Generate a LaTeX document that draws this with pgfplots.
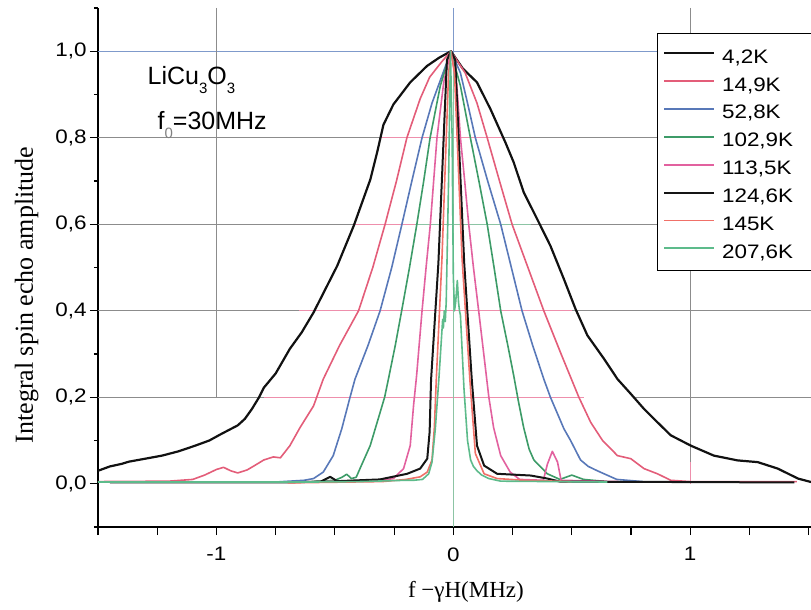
\documentclass[border=0pt]{standalone}
\usepackage{fontspec}
\setmainfont{Liberation Sans}
\newfontfamily\tickfont[FakeStretch=1.15]{Liberation Sans}
\newfontfamily\seriffont{Liberation Serif}
\usepackage{pgfplots}
\pgfplotsset{compat=1.18}
\definecolor{cA}{HTML}{111111}
\definecolor{cB}{HTML}{E35D79}
\definecolor{cC}{HTML}{5878B8}
\definecolor{cD}{HTML}{3D9B68}
\definecolor{cE}{HTML}{E2619F}
\definecolor{cF}{HTML}{151515}
\definecolor{cG}{HTML}{F07068}
\definecolor{cH}{HTML}{5DBB8B}
\definecolor{gridgray}{HTML}{8C8C8C}
\definecolor{gridpink}{HTML}{EE8FAC}
\definecolor{gridblue}{HTML}{7F9ACB}
\definecolor{gridgreen}{HTML}{8CC4A4}
\newcommand\sub[1]{\raisebox{-9bp}{\fontsize{15bp}{15bp}\selectfont #1}}
\begin{document}
\begin{tikzpicture}
\path[use as bounding box] (-98bp,-83bp) rectangle (713bp,527bp);
\begin{axis}[
  at={(0,0)}, anchor=south west,
  scale only axis, width=713bp, height=519bp,
  xmin=-1.5, xmax=1.51, ymin=-0.1, ymax=1.1,
  axis x line=bottom, axis y line=left,
  axis line style={-, black, line width=1.3bp},
  x axis line style={-}, y axis line style={-},
  tick align=outside,
  major tick length=8bp, minor tick length=4bp,
  tick style={black, line width=1.1bp},
  xtick={-1.5,-1.25,-1,-0.75,-0.5,-0.25,0,0.25,0.5,0.75,1,1.25,1.5},
  xticklabels={{},{},-1,{},{},{},0,{},{},{},1,{},{}},
  ytick={0,0.2,0.4,0.6,0.8,1.0},
  yticklabels={{0,0},{0,2},{0,4},{0,6},{0,8},{1,0}},
  minor ytick={-0.1,0.1,0.3,0.5,0.7,0.9,1.1},
  ticklabel style={font=\tickfont\fontsize{19.5bp}{22bp}\selectfont},
  xticklabel style={yshift=-9bp},
  xlabel={f −γH(MHz)},
  xlabel style={font=\seriffont\fontsize{23bp}{26bp}\selectfont, at={(axis description cs:0.516,-0.1368)}, anchor=base},
  ylabel={Integral spin echo amplitude},
  ylabel style={font=\seriffont\fontsize{26bp}{29bp}\selectfont, at={(axis description cs:-0.0912,0.447)}, anchor=base},
  legend style={at={(axis description cs:0.784,0.952)}, anchor=north west, draw=none, fill=none,
    font=\tickfont\fontsize{19.5bp}{22bp}\selectfont, inner xsep=6bp, inner ysep=6bp, row sep=0pt, column sep=7bp,
    nodes={inner sep=0pt, text height=24bp, text depth=3.9bp}},
  legend cell align=left,
  legend image code/.code={\draw[#1, line width=1.9bp] (0bp,0bp) -- (50bp,0bp);},
]
% grid lines
\draw[gridgray, line width=0.7bp] (axis cs:-1.5,0.8) -- (axis cs:1.51,0.8);
\draw[gridgray, line width=0.7bp] (axis cs:-1.5,0.6) -- (axis cs:1.51,0.6);
\draw[gridgray, line width=0.7bp] (axis cs:-1.5,0.4) -- (axis cs:1.51,0.4);
\draw[gridgray, line width=0.7bp] (axis cs:-1.5,0.2) -- (axis cs:-0.8,0.2);
\draw[gridgray, line width=0.7bp] (axis cs:0.76,0.2) -- (axis cs:1.51,0.2);
\draw[gridpink, line width=0.7bp] (axis cs:-0.31,0.8) -- (axis cs:0.21,0.8);
\draw[gridpink, line width=0.7bp] (axis cs:-0.42,0.6) -- (axis cs:-0.16,0.6);
\draw[gridgreen, line width=0.7bp] (axis cs:-0.16,0.6) -- (axis cs:0.33,0.6);
\draw[gridpink, line width=0.7bp] (axis cs:-0.65,0.4) -- (axis cs:0.5,0.4);
\draw[gridpink, line width=0.7bp] (axis cs:-0.8,0.2) -- (axis cs:0.55,0.2);
\draw[gridblue, line width=0.9bp] (axis cs:-1.5,1.0) -- (axis cs:1.51,1.0);
\draw[gridgray, line width=0.7bp] (axis cs:-1,1.1) -- (axis cs:-1,0.2);
\draw[gridblue, line width=0.7bp] (axis cs:0,1.1) -- (axis cs:0,0.97);
\draw[gridgreen, line width=0.7bp] (axis cs:0,0.97) -- (axis cs:0,-0.1);
\draw[gridgray, line width=0.7bp] (axis cs:1,1.1) -- (axis cs:1,0.05);
\draw[gridpink, line width=0.7bp] (axis cs:1,0.05) -- (axis cs:1,0);

\addplot[cA, line width=2.2bp, line join=round] coordinates {
(-1.50,0.030) (-1.45,0.040) (-1.40,0.046) (-1.37,0.051) (-1.30,0.058) (-1.23,0.065) (-1.16,0.075) (-1.09,0.088) (-1.03,0.100) (-0.98,0.115) (-0.91,0.135) (-0.88,0.150) (-0.85,0.173) (-0.82,0.200) (-0.80,0.222) (-0.75,0.255) (-0.69,0.312) (-0.64,0.350) (-0.59,0.396) (-0.54,0.450) (-0.49,0.504) (-0.42,0.597) (-0.35,0.704) (-0.32,0.770) (-0.295,0.830) (-0.253,0.877) (-0.182,0.928) (-0.111,0.966) (-0.06,0.985) (-0.01,1.0) (0.04,0.960) (0.10,0.928) (0.157,0.866) (0.22,0.789) (0.255,0.743) (0.297,0.674) (0.354,0.612) (0.41,0.550) (0.467,0.473) (0.516,0.404) (0.566,0.343) (0.636,0.289) (0.693,0.242) (0.749,0.208) (0.805,0.173) (0.862,0.142) (0.918,0.112) (1.003,0.088) (1.10,0.065) (1.20,0.054) (1.285,0.050) (1.37,0.035) (1.455,0.012) (1.51,0.004)
};
\addlegendentry{4,2K}
\addplot[cB, line width=1.6bp, line join=round] coordinates {
(-1.50,0.005) (-1.20,0.006) (-1.10,0.010) (-1.05,0.020) (-1.00,0.033) (-0.97,0.038) (-0.94,0.030) (-0.91,0.025) (-0.87,0.032) (-0.83,0.045) (-0.80,0.055) (-0.76,0.062) (-0.73,0.060) (-0.69,0.088) (-0.647,0.130) (-0.59,0.180) (-0.549,0.242) (-0.48,0.320) (-0.40,0.400) (-0.34,0.500) (-0.288,0.600) (-0.24,0.700) (-0.196,0.800) (-0.14,0.890) (-0.10,0.940) (-0.05,0.975) (-0.01,1.0) (0.05,0.950) (0.10,0.880) (0.143,0.800) (0.195,0.700) (0.248,0.600) (0.315,0.500) (0.382,0.400) (0.455,0.300) (0.53,0.200) (0.58,0.142) (0.63,0.100) (0.693,0.065) (0.749,0.058) (0.805,0.035) (0.862,0.023) (0.918,0.008) (1.00,0.005) (1.45,0.005)
};
\addlegendentry{14,9K}
\addplot[cC, line width=1.6bp, line join=round] coordinates {
(-0.75,0.004) (-0.63,0.008) (-0.59,0.012) (-0.549,0.027) (-0.507,0.065) (-0.471,0.127) (-0.436,0.200) (-0.415,0.242) (-0.36,0.320) (-0.309,0.400) (-0.26,0.500) (-0.217,0.600) (-0.175,0.700) (-0.132,0.800) (-0.09,0.880) (-0.05,0.940) (-0.01,1.0) (0.03,0.950) (0.06,0.880) (0.093,0.800) (0.145,0.700) (0.20,0.600) (0.245,0.500) (0.29,0.400) (0.335,0.320) (0.382,0.242) (0.41,0.200) (0.467,0.127) (0.495,0.100) (0.537,0.055) (0.57,0.040) (0.608,0.030) (0.69,0.010) (0.80,0.005)
};
\addlegendentry{52,8K}
\addplot[cD, line width=1.6bp, line join=round] coordinates {
(-0.60,0.005) (-0.50,0.008) (-0.47,0.015) (-0.45,0.022) (-0.43,0.012) (-0.41,0.015) (-0.394,0.035) (-0.351,0.088) (-0.309,0.165) (-0.29,0.200) (-0.274,0.242) (-0.245,0.320) (-0.218,0.400) (-0.185,0.500) (-0.154,0.600) (-0.125,0.700) (-0.098,0.800) (-0.055,0.920) (-0.01,1.0) (0.03,0.920) (0.072,0.800) (0.108,0.700) (0.143,0.600) (0.172,0.500) (0.20,0.400) (0.23,0.320) (0.255,0.250) (0.275,0.190) (0.297,0.130) (0.32,0.080) (0.34,0.055) (0.397,0.023) (0.45,0.010) (0.50,0.020) (0.55,0.010) (0.65,0.005)
};
\addlegendentry{102,9K}
\addplot[cE, line width=1.6bp, line join=round] coordinates {
(-0.70,0.004) (-0.40,0.006) (-0.30,0.008) (-0.253,0.012) (-0.21,0.035) (-0.182,0.088) (-0.168,0.180) (-0.155,0.250) (-0.132,0.400) (-0.115,0.500) (-0.097,0.600) (-0.083,0.700) (-0.069,0.800) (-0.04,0.930) (-0.01,1.0) (0.015,0.920) (0.03,0.800) (0.048,0.700) (0.065,0.600) (0.085,0.500) (0.107,0.400) (0.135,0.270) (0.15,0.200) (0.17,0.130) (0.20,0.065) (0.24,0.027) (0.28,0.010) (0.38,0.008) (0.397,0.045) (0.418,0.075) (0.44,0.050) (0.455,0.008) (0.70,0.005)
};
\addlegendentry{113,5K}
\addplot[cF, line width=2bp, line join=round] coordinates {
(-1.45,0.003) (-0.70,0.003) (-0.56,0.005) (-0.52,0.016) (-0.49,0.006) (-0.31,0.010) (-0.195,0.023) (-0.14,0.035) (-0.11,0.058) (-0.10,0.120) (-0.094,0.240) (-0.063,0.510) (-0.027,0.980) (-0.01,1.0) (0.008,0.980) (0.046,0.510) (0.078,0.240) (0.10,0.088) (0.13,0.042) (0.185,0.023) (0.327,0.019) (0.397,0.012) (0.45,0.005) (1.44,0.003)
};
\addlegendentry{124,6K}
\addplot[cG, line width=1.6bp, line join=round] coordinates {
(-0.70,0.002) (-0.30,0.005) (-0.20,0.010) (-0.14,0.016) (-0.11,0.027) (-0.09,0.055) (-0.08,0.130) (-0.072,0.240) (-0.048,0.520) (-0.02,0.950) (-0.01,1.0) (0.005,0.950) (0.037,0.520) (0.07,0.240) (0.093,0.070) (0.13,0.023) (0.185,0.012) (0.30,0.008) (0.50,0.005)
};
\addlegendentry{145K}
\addplot[cH, line width=1.6bp, line join=round] coordinates {
(-1.50,0.004) (-0.60,0.004) (-0.40,0.005) (-0.20,0.008) (-0.168,0.008) (-0.13,0.010) (-0.104,0.023) (-0.09,0.050) (-0.076,0.127) (-0.06,0.250) (-0.045,0.380) (-0.042,0.360) (-0.038,0.400) (-0.034,0.375) (-0.03,0.420) (-0.02,0.700) (-0.012,1.0) (-0.005,0.800) (0.0,0.480) (0.005,0.400) (0.01,0.420) (0.017,0.470) (0.022,0.420) (0.026,0.400) (0.03,0.390) (0.045,0.220) (0.06,0.100) (0.073,0.055) (0.085,0.040) (0.1,0.030) (0.12,0.020) (0.15,0.012) (0.2,0.006) (0.65,0.004)
};
\addlegendentry{207,6K}

\fill[white] (axis description cs:0.784,0.952) rectangle (axis description cs:1.06,0.495);
\draw[black, line width=0.8bp] (axis description cs:1.06,0.952) -- (axis description cs:0.784,0.952) -- (axis description cs:0.784,0.495) -- (axis description cs:1.06,0.495);
\node[anchor=base west, font=\fontsize{25bp}{28bp}\selectfont] at (axis cs:-1.305,0.924) {LiCu\sub{3}O\sub{3}};
\node[anchor=base west, font=\fontsize{25bp}{28bp}\selectfont] at (axis cs:-1.263,0.82) {f\sub{\textcolor{gray}{0}}=30MHz};
\end{axis}
\end{tikzpicture}
\end{document}
